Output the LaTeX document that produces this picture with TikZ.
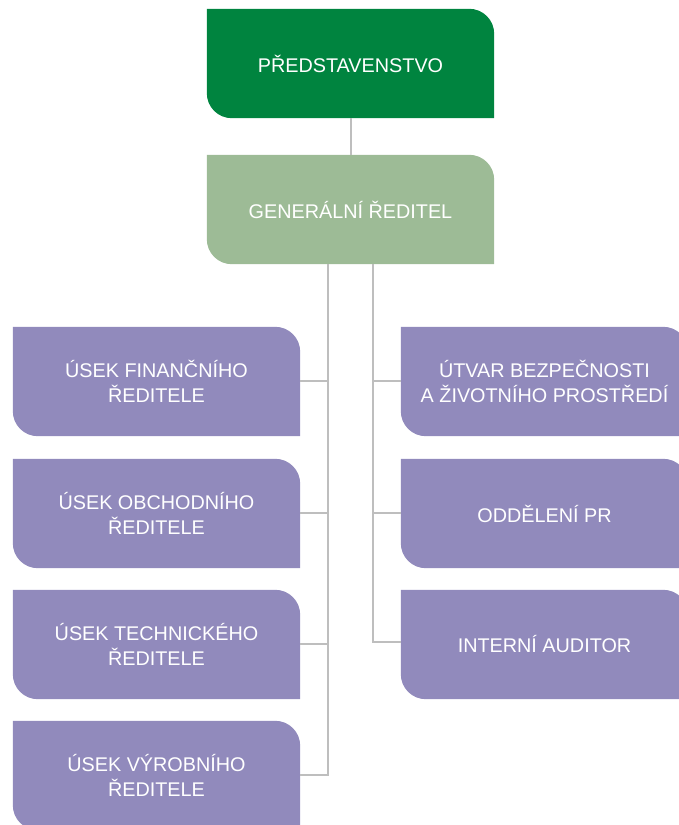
\documentclass[tikz,border=0pt]{standalone}
\usepackage{fontspec}
\setmainfont{Liberation Sans}
\usetikzlibrary{backgrounds,calc}
\definecolor{boardgreen}{HTML}{00843F}
\definecolor{gdgreen}{HTML}{9DBB96}
\definecolor{unitpurple}{HTML}{918ABC}
\definecolor{conngray}{HTML}{BEBEBE}
\tikzset{
  orgbox/.style={minimum width=287pt, minimum height=109pt, inner sep=0pt,
    text=white, align=center, font=\fontsize{19.8}{24.4}\selectfont},
  conn/.style={draw=conngray, line width=2pt},
}
\newcommand\leafshape[2]{%
  \fill[#2] (#1.north west) -- ([xshift=-25pt]#1.north east)
    arc[start angle=90,end angle=0,radius=25pt] -- (#1.south east)
    -- ([xshift=25pt]#1.south west)
    arc[start angle=270,end angle=180,radius=25pt] -- cycle;}
\begin{document}
\begin{tikzpicture}[x=1pt,y=1pt]
\useasboundingbox (0,0) rectangle (678,825);
\clip (0,0) rectangle (678,825);
\node[orgbox] (board) at (350.5,761.5) {PŘEDSTAVENSTVO};
\node[orgbox] (gd) at (350.5,615.5) {GENERÁLNÍ ŘEDITEL};
\node[orgbox] (l1) at (156.5,443.5) {ÚSEK FINANČNÍHO\\ŘEDITELE};
\node[orgbox] (l2) at (156.5,311.5) {ÚSEK OBCHODNÍHO\\ŘEDITELE};
\node[orgbox] (l3) at (156.5,180.5) {ÚSEK TECHNICKÉHO\\ŘEDITELE};
\node[orgbox] (l4) at (156.5,49.5) {ÚSEK VÝROBNÍHO\\ŘEDITELE};
\node[orgbox] (r1) at (544.5,443.5) {ÚTVAR BEZPEČNOSTI\\A ŽIVOTNÍHO PROSTŘEDÍ};
\node[orgbox] (r2) at (544.5,311.5) {ODDĚLENÍ PR};
\node[orgbox] (r3) at (544.5,180.5) {INTERNÍ AUDITOR};
\coordinate (lx) at (328,0);
\coordinate (rx) at (373,0);
\begin{scope}[on background layer]
  \leafshape{board}{boardgreen}
  \leafshape{gd}{gdgreen}
  \foreach \n in {l1,l2,l3,l4,r1,r2,r3} {\leafshape{\n}{unitpurple}}
  \draw[conn] (board.south) -- (gd.north);
  \draw[conn] (gd.south -| lx) |- (l4.east);
  \foreach \n in {l1,l2,l3} {\draw[conn] (\n.east) -- (\n.east -| lx);}
  \draw[conn] (gd.south -| rx) |- ([yshift=2.5pt]r3.west);
  \foreach \n in {r1,r2} {\draw[conn] (\n.west) -- (\n.west -| rx);}
\end{scope}
\end{tikzpicture}
\end{document}
